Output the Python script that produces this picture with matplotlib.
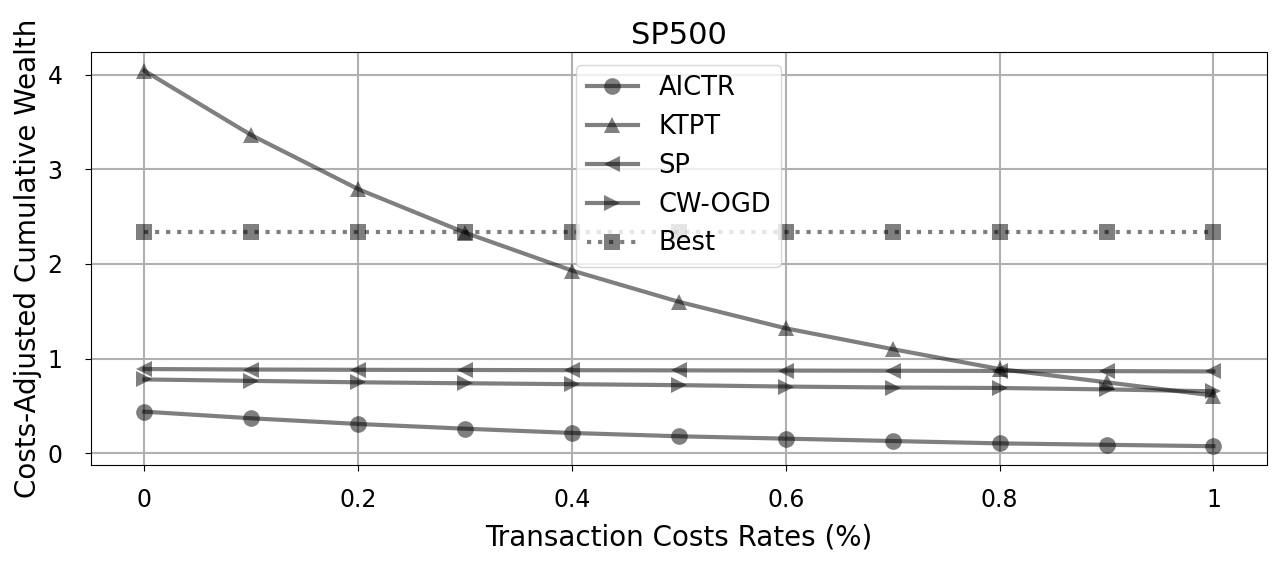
import numpy as np
import matplotlib
matplotlib.use("Agg")
import matplotlib.pyplot as plt

# transaction cost rates (%)
rates = [0, 0.1, 0.2, 0.3, 0.4, 0.5, 0.6, 0.7, 0.8, 0.9, 1.0]

aictr = [0.44, 0.37, 0.31, 0.26, 0.215, 0.18, 0.155, 0.13, 0.105, 0.09, 0.075]
ktpt = [4.04, 3.36, 2.79, 2.33, 1.93, 1.60, 1.32, 1.10, 0.89, 0.75, 0.61]
sp = [0.89, 0.885, 0.882, 0.88, 0.878, 0.876, 0.874, 0.872, 0.87, 0.868, 0.865]
cwogd = [0.78, 0.765, 0.75, 0.74, 0.73, 0.72, 0.705, 0.695, 0.69, 0.675, 0.655]
best = [2.34] * 11

xtick_vals = [0, 0.2, 0.4, 0.6, 0.8, 1.0]
xtick_labels = ["0", "0.2", "0.4", "0.6", "0.8", "1"]

plt.rcParams['font.size'] = 18

fig, ax = plt.subplots(figsize=(12.81, 5.65), dpi=100)

style = dict(color='k', alpha=0.5, linewidth=3, markersize=12, markeredgewidth=0)
ax.plot(rates, aictr, marker='o', label='AICTR', **style)
ax.plot(rates, ktpt, marker='^', label='KTPT', **style)
ax.plot(rates, sp, marker='<', label='SP', **style)
ax.plot(rates, cwogd, marker='>', label='CW-OGD', **style)
ax.plot(rates, best, marker='s', linestyle=':', label='Best', **style)

ax.set_xticks(xtick_vals)
ax.set_xticklabels(xtick_labels)
ax.set_yticks([0, 1, 2, 3, 4])
ax.tick_params(labelsize=17, length=4.5)
ax.tick_params(axis='x', pad=12)
ax.tick_params(axis='y', pad=16)
ax.grid(True, color='#b0b0b0', linewidth=1.5)
ax.set_title("SP500", fontsize=22)
ax.set_xlabel("Transaction Costs Rates (%)", fontsize=20, labelpad=8)
ax.set_ylabel("Costs-Adjusted Cumulative Wealth", fontsize=20)
ax.legend(loc='upper center', fontsize=18.5)

fig.subplots_adjust(left=0.071, right=0.989, top=0.908, bottom=0.177)
fig.savefig("out.png")
